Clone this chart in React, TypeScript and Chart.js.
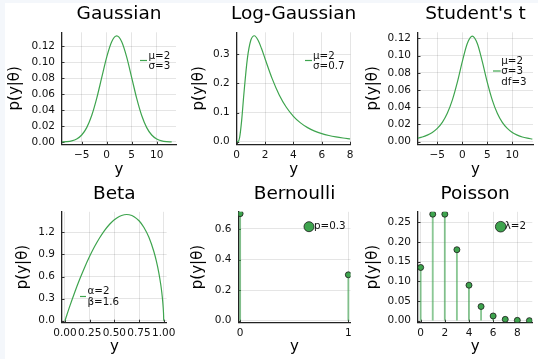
import React, { useEffect, useRef } from "react";
import { Chart, registerables } from "chart.js";

Chart.register(...registerables);

const FONT = "'DejaVu Sans', sans-serif";
const GREEN = "#3ea44e";
const STEM = "rgba(62,164,78,0.6)";
const GRID = "rgba(0,0,0,0.1)";
const TITLE_SIZE = 18.5;
const AXIS_SIZE = 15;
const TICK_SIZE = 10.5;
const LEGEND_SIZE = 10.3;

// ---------------- data ----------------
const titles = ["Gaussian", "Log-Gaussian", "Student's t", "Beta", "Bernoulli", "Poisson"];
const xAxisLabel = "y";
const yAxisLabel = "p(y|θ)";

const gaussX = [-9, -8, -7, -6, -5, -4, -3, -2, -1, 0, 1, 2, 3, 4, 5, 6, 7, 8, 9, 10, 11, 12, 13];
const gaussY = [0.00016, 0.00051, 0.00148, 0.0038, 0.00874, 0.018, 0.0332, 0.0547, 0.0807, 0.1065, 0.1258, 0.133, 0.1258, 0.1065, 0.0807, 0.0547, 0.0332, 0.018, 0.00874, 0.0038, 0.00148, 0.00051, 0.00016];
const gaussLegend = ["μ=2", "σ=3"];
const gaussXTicks = [-5, 0, 5, 10];
const gaussXTickLabels = ["\u22125", "0", "5", "10"];
const gaussYTicks = [0, 0.02, 0.04, 0.06, 0.08, 0.1, 0.12];
const gaussYTickLabels = ["0.00", "0.02", "0.04", "0.06", "0.08", "0.10", "0.12"];

const logX = [0, 0.1, 0.2, 0.35, 0.5, 0.75, 1, 1.25, 1.5, 1.75, 2, 2.5, 3, 3.5, 4, 4.5, 5, 5.5, 6, 6.5, 7, 7.5, 8];
const logY = [0, 0.0006, 0.0127, 0.0734, 0.1604, 0.2847, 0.3491, 0.3639, 0.3491, 0.3198, 0.285, 0.2167, 0.1606, 0.1183, 0.0873, 0.0647, 0.0484, 0.0365, 0.0277, 0.0212, 0.0164, 0.0128, 0.01];
const logLegend = ["μ=2", "σ=0.7"];
const logXTicks = [0, 2, 4, 6, 8];
const logXTickLabels = ["0", "2", "4", "6", "8"];
const logYTicks = [0, 0.1, 0.2, 0.3];
const logYTickLabels = ["0.0", "0.1", "0.2", "0.3"];

const tX = [-9, -8, -7, -6, -5, -4, -3, -2, -1, 0, 1, 2, 3, 4, 5, 6, 7, 8, 9, 10, 11, 12, 13, 14];
const tY = [0.0041, 0.0055, 0.0077, 0.0108, 0.0155, 0.0225, 0.033, 0.0483, 0.0689, 0.093, 0.114, 0.1225, 0.114, 0.093, 0.0689, 0.0483, 0.033, 0.0225, 0.0155, 0.0108, 0.0077, 0.0055, 0.0041, 0.0031];
const tLegend = ["μ=2", "σ=3", "df=3"];
const tXTicks = [-5, 0, 5, 10];
const tXTickLabels = ["\u22125", "0", "5", "10"];
const tYTicks = [0, 0.02, 0.04, 0.06, 0.08, 0.1, 0.12];
const tYTickLabels = ["0.00", "0.02", "0.04", "0.06", "0.08", "0.10", "0.12"];

const betaX = [0, 0.05, 0.1, 0.15, 0.2, 0.25, 0.3, 0.35, 0.4, 0.45, 0.5, 0.55, 0.6, 0.625, 0.65, 0.7, 0.75, 0.8, 0.85, 0.9, 0.925, 0.95, 0.97, 0.98, 0.99, 0.995, 0.999, 1];
const betaY = [0, 0.2017, 0.3905, 0.566, 0.7278, 0.8752, 1.0076, 1.1243, 1.2247, 1.3078, 1.3724, 1.417, 1.4404, 1.4435, 1.4404, 1.4141, 1.3581, 1.267, 1.1329, 0.9405, 0.8131, 0.6549, 0.4922, 0.3898, 0.2599, 0.1722, 0.0657, 0];
const betaLegend = ["α=2", "β=1.6"];
const betaXTicks = [0, 0.25, 0.5, 0.75, 1];
const betaXTickLabels = ["0.00", "0.25", "0.50", "0.75", "1.00"];
const betaYTicks = [0, 0.3, 0.6, 0.9, 1.2];
const betaYTickLabels = ["0.0", "0.3", "0.6", "0.9", "1.2"];

const bernX = [0, 1];
const bernY = [0.7, 0.3];
const bernLegend = ["p=0.3"];
const bernXTicks = [0, 1];
const bernXTickLabels = ["0", "1"];
const bernYTicks = [0, 0.2, 0.4, 0.6];
const bernYTickLabels = ["0.0", "0.2", "0.4", "0.6"];

const poisX = [0, 1, 2, 3, 4, 5, 6, 7, 8, 9];
const poisY = [0.1353, 0.2707, 0.2707, 0.1804, 0.0902, 0.0361, 0.012, 0.0034, 0.0009, 0.0002];
const poisLegend = ["λ=2"];
const poisXTicks = [0, 2, 4, 6, 8];
const poisXTickLabels = ["0", "2", "4", "6", "8"];
const poisYTicks = [0, 0.05, 0.1, 0.15, 0.2, 0.25];
const poisYTickLabels = ["0.00", "0.05", "0.10", "0.15", "0.20", "0.25"];

// ---------------- layout specs ----------------
type Legend =
  | { kind: "line"; x1: number; x2: number; sy: number; tx: number; ty: number; gap: number; lines: string[] }
  | { kind: "marker"; cx: number; cy: number; r: number; tx: number; lines: string[] };

type Spec = {
  title: string;
  canvas: { l: number; t: number; w: number; h: number };
  area: { l: number; t: number; r: number; b: number };
  titleMid: number;
  yTitleX: number;
  xTitleMid: number;
  xRange: [number, number];
  yRange: [number, number];
  xTicks: number[];
  xTickLabels: string[];
  yTicks: number[];
  yTickLabels: string[];
  kind: "curve" | "stem";
  xs: number[];
  ys: number[];
  legend: Legend;
};

const specs: Spec[] = [
  {
    title: titles[0],
    canvas: { l: 0, t: 0, w: 180, h: 179 },
    area: { l: 62, t: 32.3, r: 176, b: 144.3 },
    titleMid: 14.6, yTitleX: 15.3, xTitleMid: 169.7,
    xRange: [-8.94, 13.86], yRange: [-0.0029, 0.1376],
    xTicks: gaussXTicks, xTickLabels: gaussXTickLabels, yTicks: gaussYTicks, yTickLabels: gaussYTickLabels,
    kind: "curve", xs: gaussX, ys: gaussY,
    legend: { kind: "line", x1: 140, x2: 147, sy: 60.5, tx: 148.5, ty: 56, gap: 10.3, lines: gaussLegend },
  },
  {
    title: titles[1],
    canvas: { l: 180, t: 0, w: 178, h: 179 },
    area: { l: 236.7, t: 32.3, r: 351.5, b: 144.3 },
    titleMid: 14.6, yTitleX: 198.7, xTitleMid: 169.7,
    xRange: [0, 8.03], yRange: [-0.0089, 0.3757],
    xTicks: logXTicks, xTickLabels: logXTickLabels, yTicks: logYTicks, yTickLabels: logYTickLabels,
    kind: "curve", xs: logX, ys: logY,
    legend: { kind: "line", x1: 305, x2: 312, sy: 60.5, tx: 313, ty: 56, gap: 10.3, lines: logLegend },
  },
  {
    title: titles[2],
    canvas: { l: 358, t: 0, w: 180, h: 179 },
    area: { l: 418, t: 32.3, r: 533, b: 144.3 },
    titleMid: 14.6, yTitleX: 373.3, xTitleMid: 169.7,
    xRange: [-8.86, 14.14], yRange: [-0.003, 0.127],
    xTicks: tXTicks, xTickLabels: tXTickLabels, yTicks: tYTicks, yTickLabels: tYTickLabels,
    kind: "curve", xs: tX, ys: tY,
    legend: { kind: "line", x1: 493, x2: 500.7, sy: 71, tx: 501.3, ty: 61, gap: 10.5, lines: tLegend },
  },
  {
    title: titles[3],
    canvas: { l: 0, t: 179, w: 180, h: 180 },
    area: { l: 62, t: 211.8, r: 176.7, b: 322.2 },
    titleMid: 194.3, yTitleX: 23.3, xTitleMid: 347.2,
    xRange: [-0.03, 1.03], yRange: [-0.02, 1.48],
    xTicks: betaXTicks, xTickLabels: betaXTickLabels, yTicks: betaYTicks, yTickLabels: betaYTickLabels,
    kind: "curve", xs: betaX, ys: betaY,
    legend: { kind: "line", x1: 80, x2: 86, sy: 296.5, tx: 87.5, ty: 291.2, gap: 10.8, lines: betaLegend },
  },
  {
    title: titles[4],
    canvas: { l: 180, t: 179, w: 178, h: 180 },
    area: { l: 238.5, t: 211.8, r: 350.5, b: 322.2 },
    titleMid: 194.3, yTitleX: 198.3, xTitleMid: 347.2,
    xRange: [-0.015, 1.02], yRange: [-0.01, 0.712],
    xTicks: bernXTicks, xTickLabels: bernXTickLabels, yTicks: bernYTicks, yTickLabels: bernYTickLabels,
    kind: "stem", xs: bernX, ys: bernY,
    legend: { kind: "marker", cx: 309, cy: 226.7, r: 5, tx: 314, lines: bernLegend },
  },
  {
    title: titles[5],
    canvas: { l: 358, t: 179, w: 180, h: 180 },
    area: { l: 418, t: 211.8, r: 532.3, b: 322.2 },
    titleMid: 194.3, yTitleX: 373.3, xTitleMid: 347.2,
    xRange: [-0.22, 9.24], yRange: [-0.0038, 0.2768],
    xTicks: poisXTicks, xTickLabels: poisXTickLabels, yTicks: poisYTicks, yTickLabels: poisYTickLabels,
    kind: "stem", xs: poisX, ys: poisY,
    legend: { kind: "marker", cx: 500.7, cy: 226.7, r: 5.3, tx: 504.7, lines: poisLegend },
  },
];

// ---------------- plugins ----------------
const innerTicks = {
  id: "innerTicks",
  beforeDatasetsDraw(chart: any) {
    const { ctx, chartArea, scales } = chart;
    ctx.save();
    ctx.strokeStyle = "#333";
    ctx.lineWidth = 1;
    scales.x.ticks.forEach((t: any) => {
      const px = Math.round(scales.x.getPixelForValue(t.value)) + 0.5;
      ctx.beginPath();
      ctx.moveTo(px, chartArea.bottom);
      ctx.lineTo(px, chartArea.bottom - 2.5);
      ctx.stroke();
    });
    scales.y.ticks.forEach((t: any) => {
      const py = Math.round(scales.y.getPixelForValue(t.value)) + 0.5;
      ctx.beginPath();
      ctx.moveTo(chartArea.left, py);
      ctx.lineTo(chartArea.left + 2.5, py);
      ctx.stroke();
    });
    ctx.restore();
  },
};

function makeTitlePlugin(spec: Spec) {
  const oy = spec.canvas.t;
  return {
    id: "panelTitle",
    afterDraw(chart: any) {
      const { ctx, chartArea } = chart;
      ctx.save();
      ctx.font = `${TITLE_SIZE}px ${FONT}`;
      ctx.fillStyle = "#000";
      ctx.textAlign = "center";
      ctx.textBaseline = "middle";
      ctx.fillText(spec.title, (chartArea.left + chartArea.right) / 2, spec.titleMid - oy);
      ctx.restore();
    },
  };
}

function makeLegendPlugin(spec: Spec) {
  const ox = spec.canvas.l;
  const oy = spec.canvas.t;
  const lg = spec.legend;
  return {
    id: "miniLegend",
    afterDraw(chart: any) {
      const ctx = chart.ctx;
      ctx.save();
      ctx.font = `${LEGEND_SIZE}px ${FONT}`;
      ctx.fillStyle = "#111";
      ctx.textBaseline = "middle";
      ctx.textAlign = "left";
      if (lg.kind === "line") {
        ctx.strokeStyle = GREEN;
        ctx.lineWidth = 1.2;
        ctx.beginPath();
        ctx.moveTo(lg.x1 - ox, lg.sy - oy);
        ctx.lineTo(lg.x2 - ox, lg.sy - oy);
        ctx.stroke();
        lg.lines.forEach((s, i) => ctx.fillText(s, lg.tx - ox, lg.ty - oy + i * lg.gap));
      } else {
        ctx.fillStyle = GREEN;
        ctx.strokeStyle = "#1a1a1a";
        ctx.lineWidth = 0.8;
        ctx.beginPath();
        ctx.arc(lg.cx - ox, lg.cy - oy, lg.r, 0, Math.PI * 2);
        ctx.fill();
        ctx.stroke();
        ctx.fillStyle = "#111";
        lg.lines.forEach((s, i) => ctx.fillText(s, lg.tx - ox, lg.cy - oy + i * 10.3));
      }
      ctx.restore();
    },
  };
}

function makeConfig(spec: Spec): any {
  const { canvas, area } = spec;
  const lhA = AXIS_SIZE * 1.2;
  const areaTop = area.t - canvas.t;
  const yw = area.l - canvas.l;
  const xh = canvas.t + canvas.h - area.b;
  const padRight = canvas.l + canvas.w - area.r;
  const yTitlePad = spec.yTitleX - canvas.l - lhA / 2;
  const xTitlePad = canvas.t + canvas.h - spec.xTitleMid - lhA / 2;

  const points = spec.xs.map((x, i) => ({ x, y: spec.ys[i] }));
  const datasets: any[] =
    spec.kind === "curve"
      ? [
          {
            type: "scatter",
            data: points,
            showLine: true,
            borderColor: GREEN,
            borderWidth: 1.2,
            pointRadius: 0,
            cubicInterpolationMode: "monotone",
            fill: false,
          },
        ]
      : [
          {
            type: "scatter",
            data: points,
            pointRadius: 3,
            backgroundColor: GREEN,
            borderColor: "#1a1a1a",
            borderWidth: 0.8,
            order: 0,
          },
          {
            type: "bar",
            data: points,
            barThickness: 1.2,
            backgroundColor: STEM,
            borderWidth: 0,
            order: 1,
          },
        ];

  return {
    type: "scatter",
    data: { datasets },
    options: {
      responsive: false,
      animation: false,
      events: [],
      layout: { padding: { left: 0, top: areaTop, right: padRight, bottom: 0 }, autoPadding: false },
      plugins: {
        legend: { display: false },
        tooltip: { enabled: false },
        title: { display: false },
      },
      scales: {
        x: {
          type: "linear",
          min: spec.xRange[0],
          max: spec.xRange[1],
          offset: false,
          afterFit: (s: any) => {
            s.height = xh;
          },
          afterBuildTicks: (s: any) => {
            s.ticks = spec.xTicks.map((v) => ({ value: v }));
          },
          ticks: {
            autoSkip: false,
            maxRotation: 0,
            minRotation: 0,
            padding: 4.5,
            color: "#111",
            font: { family: FONT, size: TICK_SIZE },
            callback: (_v: any, i: number) => spec.xTickLabels[i],
          },
          grid: { color: GRID, lineWidth: 1, drawTicks: false, offset: false },
          border: { display: true, color: "#222", width: 1.3 },
          title: {
            display: true,
            text: xAxisLabel,
            color: "#000",
            font: { family: FONT, size: AXIS_SIZE },
            padding: { top: 0, bottom: xTitlePad },
          },
        },
        y: {
          type: "linear",
          min: spec.yRange[0],
          max: spec.yRange[1],
          afterFit: (s: any) => {
            s.width = yw;
          },
          afterBuildTicks: (s: any) => {
            s.ticks = spec.yTicks.map((v) => ({ value: v }));
          },
          ticks: {
            autoSkip: false,
            padding: 7,
            color: "#111",
            font: { family: FONT, size: TICK_SIZE },
            callback: (_v: any, i: number) => spec.yTickLabels[i],
          },
          grid: { color: GRID, lineWidth: 1, drawTicks: false },
          border: { display: true, color: "#222", width: 1.3 },
          title: {
            display: true,
            text: yAxisLabel,
            color: "#000",
            font: { family: FONT, size: AXIS_SIZE },
            padding: { top: yTitlePad, bottom: 0 },
          },
        },
      },
    },
    plugins: [innerTicks, makeTitlePlugin(spec), makeLegendPlugin(spec)],
  };
}

function Panel({ spec }: { spec: Spec }) {
  const ref = useRef<HTMLCanvasElement>(null);
  useEffect(() => {
    const chart = new Chart(ref.current as HTMLCanvasElement, makeConfig(spec));
    return () => chart.destroy();
  }, [spec]);
  const c = spec.canvas;
  return (
    <canvas
      ref={ref}
      width={c.w}
      height={c.h}
      style={{ position: "absolute", left: c.l, top: c.t, width: c.w, height: c.h }}
    />
  );
}

export default function App() {
  return (
    <div
      style={{
        position: "fixed",
        left: 0,
        top: 0,
        width: 538,
        height: 359,
        background: "#f4f7fb",
        overflow: "hidden",
      }}
    >
      <div style={{ position: "absolute", left: 5, top: 3, right: 0, bottom: 0, background: "#ffffff" }} />
      {specs.map((s) => (
        <Panel key={s.title} spec={s} />
      ))}
    </div>
  );
}
